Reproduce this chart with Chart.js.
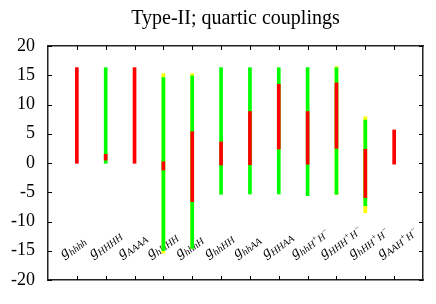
<!DOCTYPE html>
<html>
<head>
<meta charset="utf-8">
<script src="https://cdn.jsdelivr.net/npm/chart.js@4.4.1/dist/chart.umd.min.js"></script>
<style>
  html, body { margin: 0; padding: 0; background: #fff; }
</style>
</head>
<body>
<canvas id="chart" width="436" height="304"></canvas>
<script>
// couplings (subscript text, ^x = superscript)
const couplings = ['hhhh', 'HHHH', 'AAAA', 'hHHH', 'hhhH', 'hhHH', 'hhAA', 'HHAA',
                   'hhH^+H^\u2212', 'HHH^+H^\u2212', 'hHH^+H^\u2212', 'AAH^+H^\u2212'];

const yellowLow  = [null, null, null, -15.4, -14.6, null, null, null, null, -5.35, -8.5, null];
const yellowHigh = [null, null, null,  15.3,  15.3, null, null, null, null,  16.5,  7.9, null];

const greenLow  = [null, -0.05, null, -15.0, -14.6, -5.35, -5.3, -5.3, -5.6, -5.35, -7.3, null];
const greenHigh = [null, 16.3,  null,  14.6,  14.9,  16.3, 16.3, 16.3, 16.3,  16.3,  7.35, null];

const redLow  = [-0.05, 0.5, -0.05, -1.2, -6.6, -0.35, -0.3, 2.4,  -0.2, 2.5,  -5.9, -0.2];
const redHigh = [16.3,  1.5, 16.3,   0.2,  5.35, 3.6,   8.8, 13.45, 8.8, 13.7, 2.35, 5.65];

const yTicks = { min: -20, max: 20, step: 5 };

function makeBars(lo, hi) {
    return couplings.map((c, i) => lo[i] == null ? null : { x: i + 1, y: [lo[i], hi[i]] })
                    .filter(Boolean);
}

// inward ticks on all four sides
function drawTicks(chart) {
    const { ctx, chartArea: a, scales: { x, y } } = chart;
    ctx.save();
    ctx.fillStyle = '#000';
    for (let v = yTicks.min; v <= yTicks.max; v += yTicks.step) {
        const py = Math.round(y.getPixelForValue(v));
        ctx.fillRect(a.left, py, 4, 1);
        ctx.fillRect(a.right - 4, py, 4, 1);
    }
    couplings.forEach((c, i) => {
        const px = Math.round(x.getPixelForValue(i + 1));
        ctx.fillRect(px, a.bottom - 4, 1, 4);
        ctx.fillRect(px, a.top, 1, 4);
    });
    ctx.restore();
}

// g with italic subscript, rotated, sitting just above the bottom axis
function drawLabels(chart) {
    const { ctx, scales: { x } } = chart;
    couplings.forEach((lab, i) => {
        const px = x.getPixelForValue(i + 1);
        ctx.save();
        ctx.fillStyle = '#000';
        ctx.translate(px - 13, 258);
        ctx.rotate(-37 * Math.PI / 180);
        ctx.font = 'italic 15px "Liberation Serif"';
        ctx.fillText('g', 0, 0);
        let cx = ctx.measureText('g').width;
        lab.split(/(\^.)/).filter(s => s.length).forEach(p => {
            if (p[0] === '^') {
                ctx.font = 'italic 8px "Liberation Serif"';
                ctx.fillText(p.slice(1), cx, -1.5);
                cx += ctx.measureText(p.slice(1)).width;
            } else {
                ctx.font = 'italic 10px "Liberation Serif"';
                ctx.fillText(p, cx, 3);
                cx += ctx.measureText(p).width;
            }
        });
        ctx.restore();
    });
}

const labelPlugin = {
    id: 'labels',
    beforeDatasetsDraw(chart) {
        drawLabels(chart);
    },
    afterDraw(chart) {
        drawTicks(chart);
    }
};

const frameBorder = { display: true, color: '#222', width: 1.5 };

new Chart(document.getElementById('chart'), {
    type: 'bar',
    data: {
        datasets: [
            { data: makeBars(redLow, redHigh), backgroundColor: '#ff0000', order: 1 },
            { data: makeBars(greenLow, greenHigh), backgroundColor: '#00ff00', order: 2 },
            { data: makeBars(yellowLow, yellowHigh), backgroundColor: '#ffff00', order: 3 }
        ]
    },
    options: {
        responsive: false,
        animation: false,
        datasets: { bar: { grouped: false, barThickness: 3 } },
        layout: { padding: { left: 0, right: 13, top: 0, bottom: 0 } },
        plugins: {
            legend: { display: false },
            tooltip: { enabled: false },
            title: {
                display: true,
                fullSize: false,
                text: 'Type-II; quartic couplings',
                color: '#000',
                font: { family: '"Liberation Serif"', size: 20, weight: 'normal' },
                padding: { top: 7, bottom: 15 }
            }
        },
        scales: {
            x: {
                type: 'linear', position: 'bottom', min: 0, max: 13, offset: false,
                grid: { display: false, drawTicks: false },
                border: frameBorder,
                ticks: { display: false },
                afterFit: s => { s.height = 24; }
            },
            xTop: {
                type: 'linear', position: 'top', axis: 'x', min: 0, max: 13, offset: false,
                grid: { display: false, drawTicks: false },
                border: frameBorder,
                ticks: { display: false },
                afterFit: s => { s.height = 0; }
            },
            y: {
                position: 'left', min: yTicks.min, max: yTicks.max,
                grid: { display: false, drawTicks: false },
                border: frameBorder,
                ticks: { stepSize: yTicks.step, padding: 13, color: '#000',
                         font: { family: '"Liberation Serif"', size: 18 } },
                afterFit: s => { s.width = 48; }
            },
            yRight: {
                type: 'linear', position: 'right', axis: 'y', min: yTicks.min, max: yTicks.max,
                grid: { display: false, drawTicks: false },
                border: frameBorder,
                ticks: { display: false },
                afterFit: s => { s.width = 0; }
            }
        }
    },
    plugins: [labelPlugin]
});
</script>
</body>
</html>
